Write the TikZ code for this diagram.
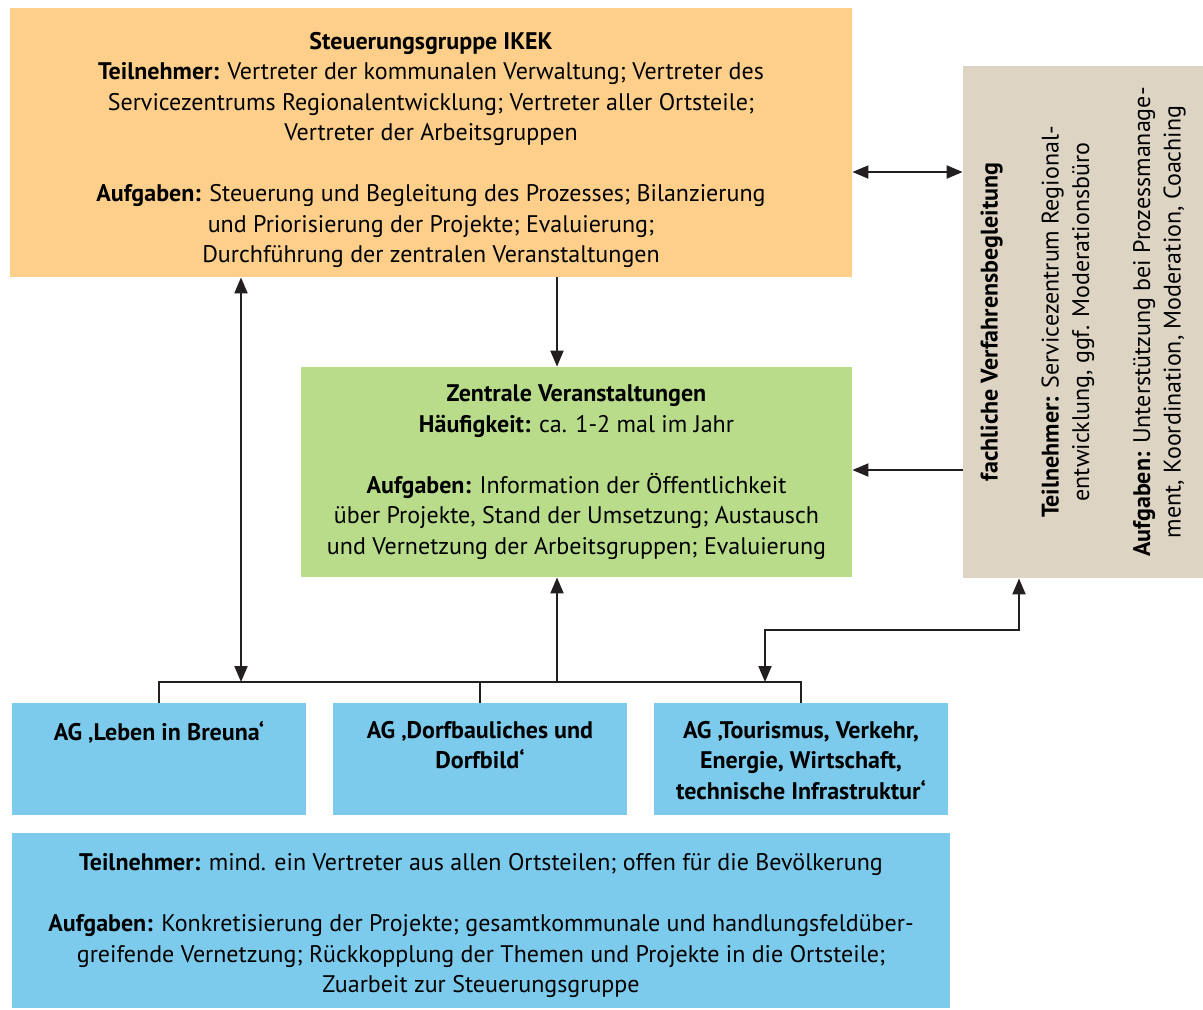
\documentclass[tikz,border=0pt]{standalone}
\usepackage{fontspec}
\setmainfont{PT Sans}
\usetikzlibrary{arrows.meta,positioning,calc}
\definecolor{ikorange}{RGB}{253,207,139}
\definecolor{ikgreen}{RGB}{185,220,138}
\definecolor{ikgrey}{RGB}{221,212,196}
\definecolor{ikblue}{RGB}{124,203,236}
\definecolor{ikline}{RGB}{35,31,32}
\newcommand{\boxfont}{\fontsize{12}{15.25}\selectfont}

\begin{document}
\begin{tikzpicture}[x=0.5pt,y=-0.5pt,
  >={Triangle[length=8pt,width=6.5pt]},
  box/.style={inner sep=0pt,align=center,font=\boxfont},
  agbox/.style={fill=ikblue,inner sep=0pt,font=\boxfont\bfseries},
  link/.style={line width=1pt,draw=ikline}]
  \useasboundingbox (0,0) rectangle (1203,1009);

  %% Steuerungsgruppe
  \node[box,fill=ikorange,minimum width=421pt,minimum height=134.5pt]
        (ikek) at (431,142.5)
        {\rule{0pt}{16pt}\textbf{Steuerungsgruppe IKEK}\\
         \textbf{Teilnehmer:} Vertreter der kommunalen Verwaltung; Vertreter des\\
         Servicezentrums Regionalentwicklung; Vertreter aller Ortsteile;\\
         Vertreter der Arbeitsgruppen\\[15.25pt]
         \textbf{Aufgaben:} Steuerung und Begleitung des Prozesses; Bilanzierung\\
         und Priorisierung der Projekte; Evaluierung;\\
         Durchführung der zentralen Veranstaltungen};

  %% Zentrale Veranstaltungen
  \node[box,fill=ikgreen,minimum width=275.5pt,minimum height=105pt]
        (zv) at (576.5,472)
        {\textbf{Zentrale Veranstaltungen}\\
         \textbf{Häufigkeit:} ca. 1-2 mal im Jahr\\[15.25pt]
         \textbf{Aufgaben:} Information der Öffentlichkeit\\
         über Projekte, Stand der Umsetzung; Austausch\\
         und Vernetzung der Arbeitsgruppen; Evaluierung};

  %% fachliche Verfahrensbegleitung
  \node[fill=ikgrey,inner sep=0pt,minimum width=120pt,minimum height=256pt]
        (fach) at (1083,322) {};
  \node[box,rotate=90] (fachtext) at (fach.center)
        {\textbf{fachliche Verfahrensbegleitung}\\[15.25pt]
         \textbf{Teilnehmer:} Servicezentrum Regional-\\
         entwicklung, ggf. Moderationsbüro\\[15.25pt]
         \textbf{Aufgaben:} Unterstützung bei Prozessmanage-\\
         ment, Koordination, Moderation, Coaching};

  %% Arbeitsgruppen
  \node[agbox] (ag1) at (159,759)
        {\parbox[c][56pt][t]{147pt}{\centering\vspace{9pt}AG ‚Leben in Breuna‘}};
  \node[agbox] (ag2) at (480,759)
        {\parbox[c][56pt][t]{147pt}{\centering\vspace{9pt}AG ‚Dorfbauliches und\\Dorfbild‘}};
  \node[agbox] (ag3) at (801,759)
        {\parbox[c][56pt][t]{147pt}{\centering\vspace{9pt}AG ‚Tourismus, Verkehr,\\Energie, Wirtschaft,\\technische Infrastruktur‘}};

  \node[box,fill=ikblue,minimum width=469pt,minimum height=87.5pt]
        (agall) at (481,920.5)
        {\rule{0pt}{14pt}\textbf{Teilnehmer:} mind. ein Vertreter aus allen Ortsteilen; offen für die Bevölkerung\\[15.25pt]
         \textbf{Aufgaben:} Konkretisierung der Projekte; gesamtkommunale und handlungsfeldüber-\\
         greifende Vernetzung; Rückkopplung der Themen und Projekte in die Ortsteile;\\
         Zuarbeit zur Steuerungsgruppe};

  %% Verbindungen
  \coordinate (busL) at (241,682);
  \coordinate (busM) at (557,682);
  \coordinate (busR) at (765,682);
  \draw[link] (ag1.north) -- (ag1.north |- busL) -- (ag3.north |- busL) -- (ag3.north);
  \draw[link] (ag2.north) -- (ag2.north |- busL);
  \draw[link,<->] (ikek.south -| busL) -- (busL);
  \draw[link,->] (ikek.south -| busM) -- (zv.north -| busM);
  \draw[link,->] (busM) -- (zv.south -| busM);
  \draw[link,<->] (busR) -- ++(0,-52) -| ($(fach.south)+(-64,0)$);
  \draw[link,<->] (ikek.east |- 0,172) -- (fach.west |- 0,172);
  \draw[link,->] (fach.west |- 0,470) -- (zv.east |- 0,470);
\end{tikzpicture}
\end{document}
